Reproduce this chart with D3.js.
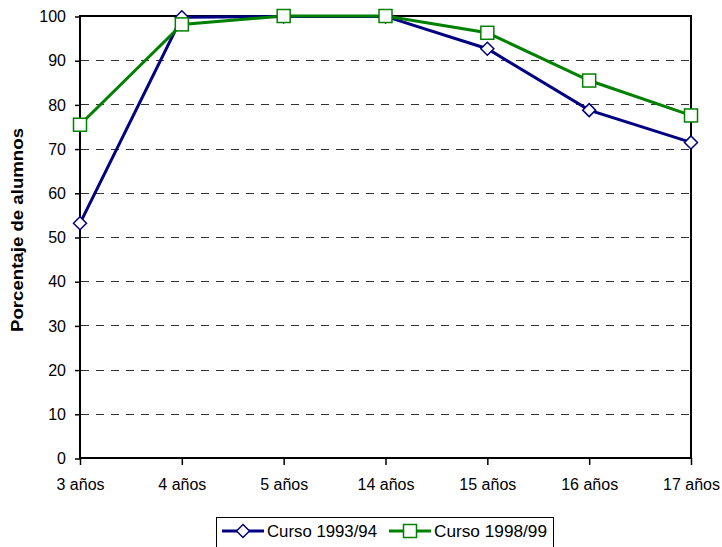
<!DOCTYPE html>
<html>
<head>
<meta charset="utf-8">
<script src="https://cdn.jsdelivr.net/npm/d3@7"></script>
<style>
  body { margin: 0; background: #fff; }
  text { font-family: Arial, "Liberation Sans", sans-serif; }
</style>
</head>
<body>
<script>
'use strict';

// data
const categories = ["3 años", "4 años", "5 años", "14 años", "15 años", "16 años", "17 años"];
const curso9394 = [53.1, 99.7, 99.9, 99.9, 92.6, 78.7, 71.4];
const curso9899 = [75.4, 98.1, 100, 100, 96.2, 85.4, 77.5];
const yTicks = [0, 10, 20, 30, 40, 50, 60, 70, 80, 90, 100];
const seriesNames = ["Curso 1993/94", "Curso 1998/99"];

(function() {
  const width = 722, height = 547;
  const left = 80, right = 691, top = 16, bottom = 458;

  const svg = d3.select('body').append('svg')
    .attr('width', width)
    .attr('height', height);

  const x = d3.scalePoint().domain(categories).range([left, right]);
  const y = d3.scaleLinear().domain([0, 100]).range([bottom, top]);

  // dashed gridlines
  svg.append('g').selectAll('line')
    .data(yTicks.filter(d => d > 0 && d < 100))
    .enter().append('line')
    .attr('x1', left + 1).attr('x2', right)
    .attr('y1', d => Math.round(y(d)) + 0.5).attr('y2', d => Math.round(y(d)) + 0.5)
    .attr('stroke', '#333')
    .attr('stroke-width', 1)
    .style('stroke-dasharray', '8,7');

  // plot border
  svg.append('rect')
    .attr('x', left).attr('y', top)
    .attr('width', right - left).attr('height', bottom - top)
    .attr('fill', 'none')
    .attr('stroke', '#000')
    .attr('stroke-width', 2);

  // axes
  const yAxis = d3.axisLeft(y).tickValues(yTicks).tickSize(5).tickPadding(9);
  svg.append('g')
    .attr('transform', 'translate(' + left + ',0.5)')
    .call(yAxis)
    .call(g => g.select('.domain').remove())
    .selectAll('text')
    .style('font-size', '16px')
    .attr('fill', '#000');

  const xAxis = d3.axisBottom(x).tickSize(7).tickPadding(14);
  svg.append('g')
    .attr('transform', 'translate(0,' + bottom + ')')
    .call(xAxis)
    .call(g => g.select('.domain').remove())
    .selectAll('text')
    .style('font-size', '16px')
    .attr('fill', '#000');

  svg.selectAll('.tick line').attr('stroke', '#000').attr('stroke-width', 1.5);

  // y title
  svg.append('text')
    .attr('transform', 'translate(23,' + 230 + ')rotate(-90)')
    .attr('text-anchor', 'middle')
    .attr('textLength', 204)
    .attr('lengthAdjust', 'spacingAndGlyphs')
    .style('font-size', '16px')
    .style('font-weight', 'bold')
    .text('Porcentaje de alumnos');

  const line = d3.line()
    .x((d, i) => x(categories[i]))
    .y(d => y(d));

  function diamond(g, cx, cy) {
    g.append('path')
      .attr('d', 'M' + cx + ',' + (cy - 6.5) + 'L' + (cx + 6.5) + ',' + cy +
        'L' + cx + ',' + (cy + 6.5) + 'L' + (cx - 6.5) + ',' + cy + 'Z')
      .attr('fill', '#fff')
      .attr('stroke', '#000080')
      .attr('stroke-width', 1.5);
  }

  function square(g, cx, cy) {
    g.append('rect')
      .attr('x', cx - 6.5).attr('y', cy - 6.5)
      .attr('width', 13).attr('height', 13)
      .attr('fill', '#fff')
      .attr('stroke', '#008000')
      .attr('stroke-width', 1.5);
  }

  // series 1993/94
  svg.append('path')
    .datum(curso9394)
    .attr('d', line)
    .attr('fill', 'none')
    .attr('stroke', '#000080')
    .attr('stroke-width', 3);

  // series 1998/99
  svg.append('path')
    .datum(curso9899)
    .attr('d', line)
    .attr('fill', 'none')
    .attr('stroke', '#008000')
    .attr('stroke-width', 3);

  const m1 = svg.append('g');
  curso9394.forEach((d, i) => diamond(m1, x(categories[i]), y(d)));
  const m2 = svg.append('g');
  curso9899.forEach((d, i) => square(m2, x(categories[i]), y(d)));

  // legend
  const lg = svg.append('g');
  lg.append('rect')
    .attr('x', 216.5).attr('y', 517.5)
    .attr('width', 337).attr('height', 40)
    .attr('fill', '#fff')
    .attr('stroke', '#000')
    .attr('stroke-width', 1);

  lg.append('line')
    .attr('x1', 222).attr('x2', 264).attr('y1', 531).attr('y2', 531)
    .attr('stroke', '#000080').attr('stroke-width', 3);
  diamond(lg, 243, 531);
  lg.append('text')
    .attr('x', 267).attr('y', 537)
    .attr('textLength', 110)
    .attr('lengthAdjust', 'spacingAndGlyphs')
    .style('font-size', '16px')
    .text(seriesNames[0]);

  lg.append('line')
    .attr('x1', 389).attr('x2', 431).attr('y1', 531).attr('y2', 531)
    .attr('stroke', '#008000').attr('stroke-width', 3);
  square(lg, 410, 531);
  lg.append('text')
    .attr('x', 434).attr('y', 537)
    .attr('textLength', 113)
    .attr('lengthAdjust', 'spacingAndGlyphs')
    .style('font-size', '16px')
    .text(seriesNames[1]);
})();
</script>
</body>
</html>
